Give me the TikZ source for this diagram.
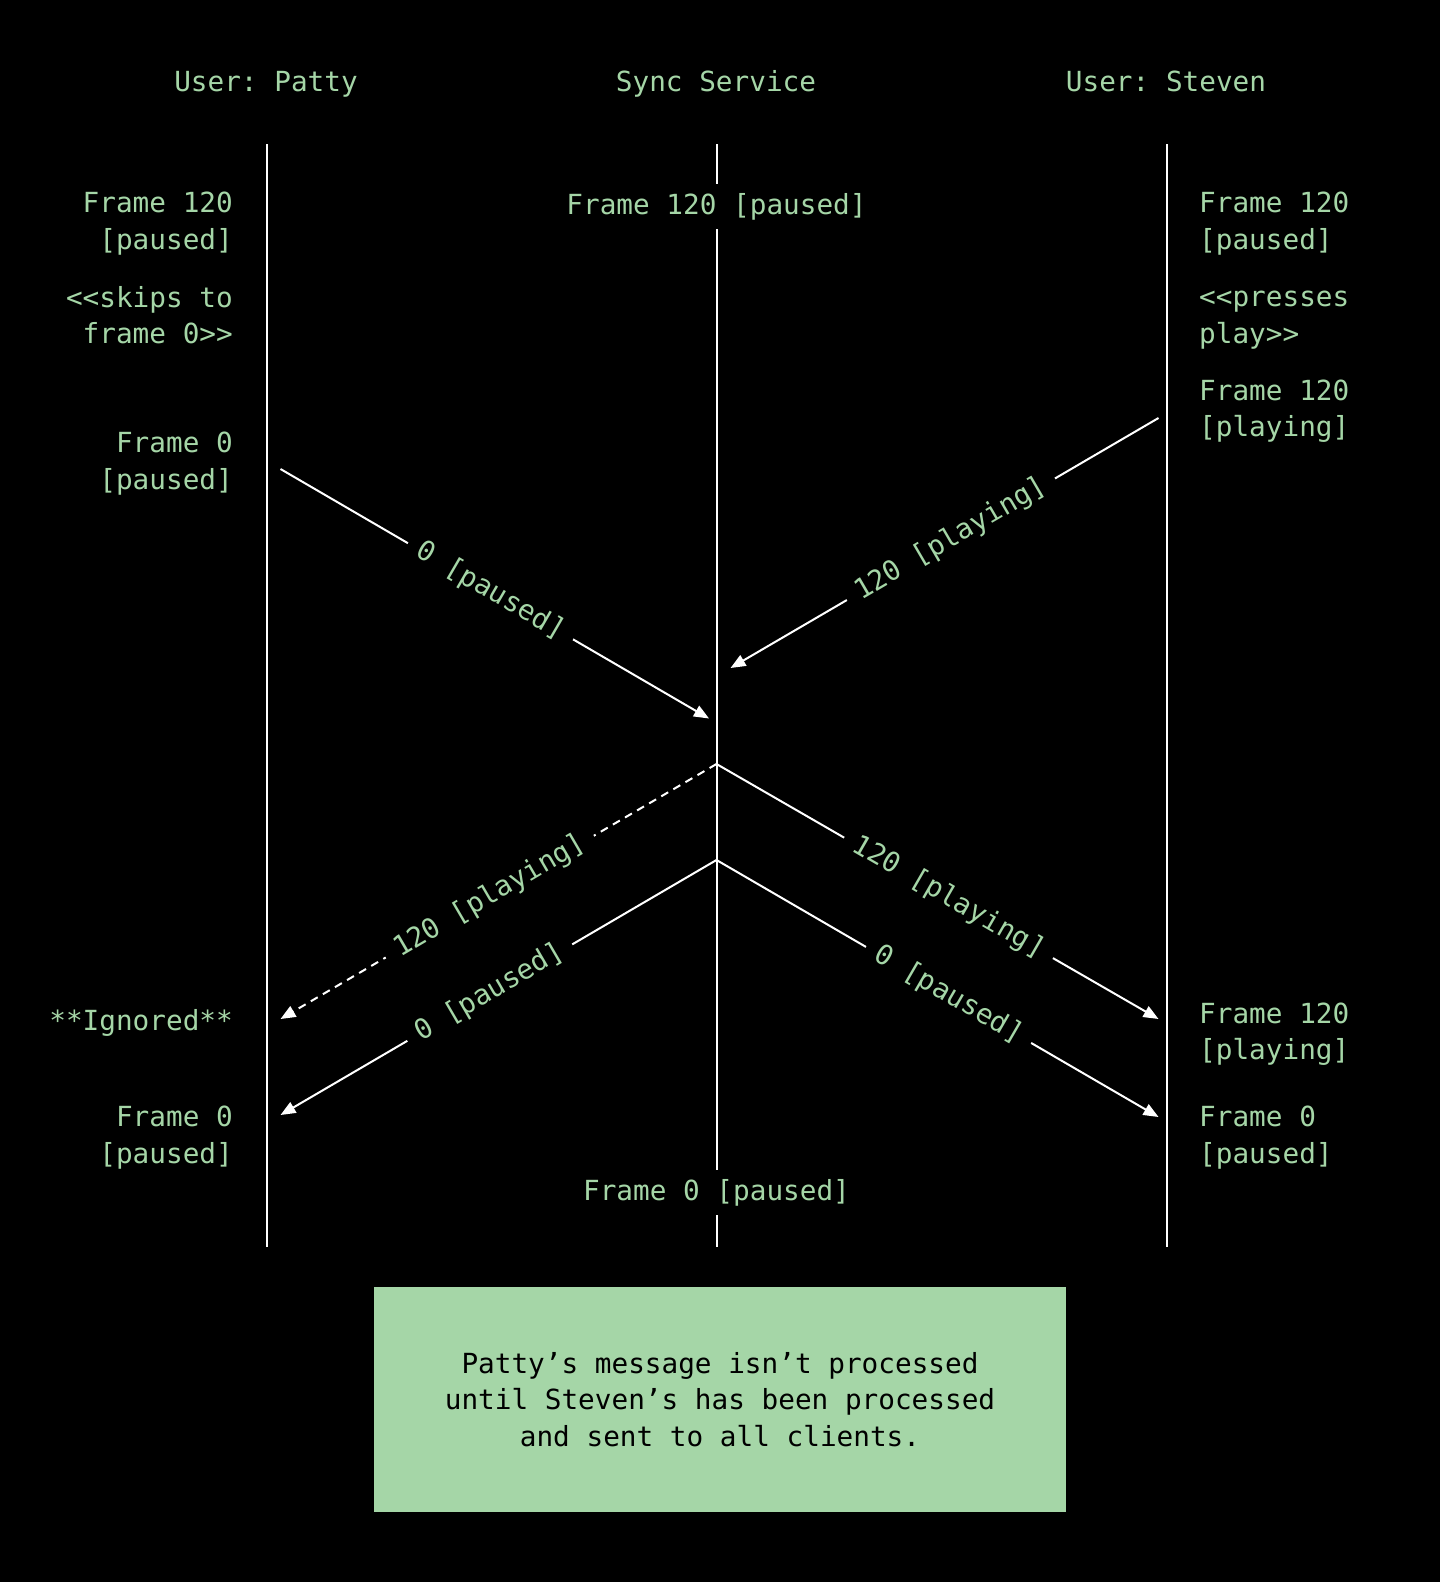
\documentclass[tikz,border=0pt]{standalone}
\usepackage{fontspec}
\setmonofont{DejaVu Sans Mono}
\usetikzlibrary{arrows.meta}
\definecolor{mint}{HTML}{A5D6A7}

\begin{document}
\begin{tikzpicture}[x=1pt, y=-1pt,
    lbl/.style={text=mint, font=\ttfamily\fontsize{27.7}{36.3}\selectfont, inner sep=0pt},
    midlbl/.style={lbl, inner ysep=9pt},
    life/.style={white, line width=2pt},
    msg/.style={white, line width=2pt, -{Triangle[length=15pt, width=12pt]}},
    tag/.style={lbl, sloped, fill=black, inner xsep=12pt, inner ysep=4pt}]
            \fill[black] (0,0) rectangle (1440,1582);

            % headers
            \node[lbl, anchor=base] (hpatty) at (266,91) {User: Patty};
            \node[lbl, anchor=base] (hsync) at (716,91) {Sync Service};
            \node[lbl, anchor=base] (hsteven) at (1166,91) {User: Steven};

            % lifelines
            \coordinate (ptop) at (266.5,144);
            \coordinate (pbot) at (266.5,1247);
            \coordinate (ctop) at (716.5,144);
            \coordinate (cbot) at (716.5,1247);
            \coordinate (stop) at (1166.5,144);
            \coordinate (sbot) at (1166.5,1247);
            \node[midlbl] (cf120) at (716.5,206.5) {Frame 120 [paused]};
            \node[midlbl] (cf0) at (716.5,1192.5) {Frame 0 [paused]};
            \draw[life] (ptop) -- (pbot);
            \draw[life] (stop) -- (sbot);
            \draw[life] (ctop) -- (cf120) -- (cf0) -- (cbot);

            % Patty
            \node[lbl, anchor=east, align=right] (pf120) at (233,223.5) {Frame 120\\{}[paused]};
            \node[lbl, anchor=east, align=right] (pskip) at (233,315) {<{}<skips to\\frame 0>{}>};
            \node[lbl, anchor=east, align=right] (pf0) at (233,463.5) {Frame 0\\{}[paused]};
            \node[lbl, anchor=east] (pign) at (233,1023) {**Ignored**};
            \node[lbl, anchor=east, align=right] (pf0b) at (233,1137.5) {Frame 0\\{}[paused]};

            % Steven
            \node[lbl, anchor=west, align=left] (sf120) at (1199,223.5) {Frame 120\\{}[paused]};
            \node[lbl, anchor=west, align=left] (spress) at (1199,320) {<{}<presses\\play>{}>};
            \node[lbl, anchor=west, align=left] (splay) at (1199,411) {Frame 120\\{}[playing]};
            \node[lbl, anchor=west, align=left] (splayb) at (1199,1034) {Frame 120\\{}[playing]};
            \node[lbl, anchor=west, align=left] (sf0) at (1199,1137.5) {Frame 0\\{}[paused]};

            % messages
            \coordinate (p1) at (280.5,469);
            \coordinate (c1) at (709,718.5);
            \coordinate (s1) at (1158.5,418);
            \coordinate (c2) at (730.5,668);
            \coordinate (c3) at (716.5,764);
            \coordinate (s2) at (1158.5,1019);
            \coordinate (p2) at (280.5,1019);
            \coordinate (c4) at (716.5,860);
            \coordinate (s3) at (1158.5,1117);
            \coordinate (p3) at (280.5,1115);
            \draw[msg] (p1) -- node[tag, pos=.49] {0 [paused]} (c1);
            \draw[msg] (s1) -- node[tag, pos=.485] {120 [playing]} (c2);
            \draw[msg] (c3) -- node[tag, pos=.525] {120 [playing]} (s2);
            \draw[msg, dash pattern=on 8pt off 6pt] (c3) -- node[tag, pos=.52] {120 [playing]} (p2);
            \draw[msg] (c4) -- node[tag, pos=.525] {0 [paused]} (s3);
            \draw[msg] (c4) -- node[tag, pos=.52] {0 [paused]} (p3);

            % note
            \node[lbl, fill=mint, text=black, align=center, minimum width=692pt, minimum height=225pt] (note) at (720,1399.5)
                {Patty’s message isn’t processed\\until Steven’s has been processed\\and sent to all clients.};
\end{tikzpicture}
\end{document}
